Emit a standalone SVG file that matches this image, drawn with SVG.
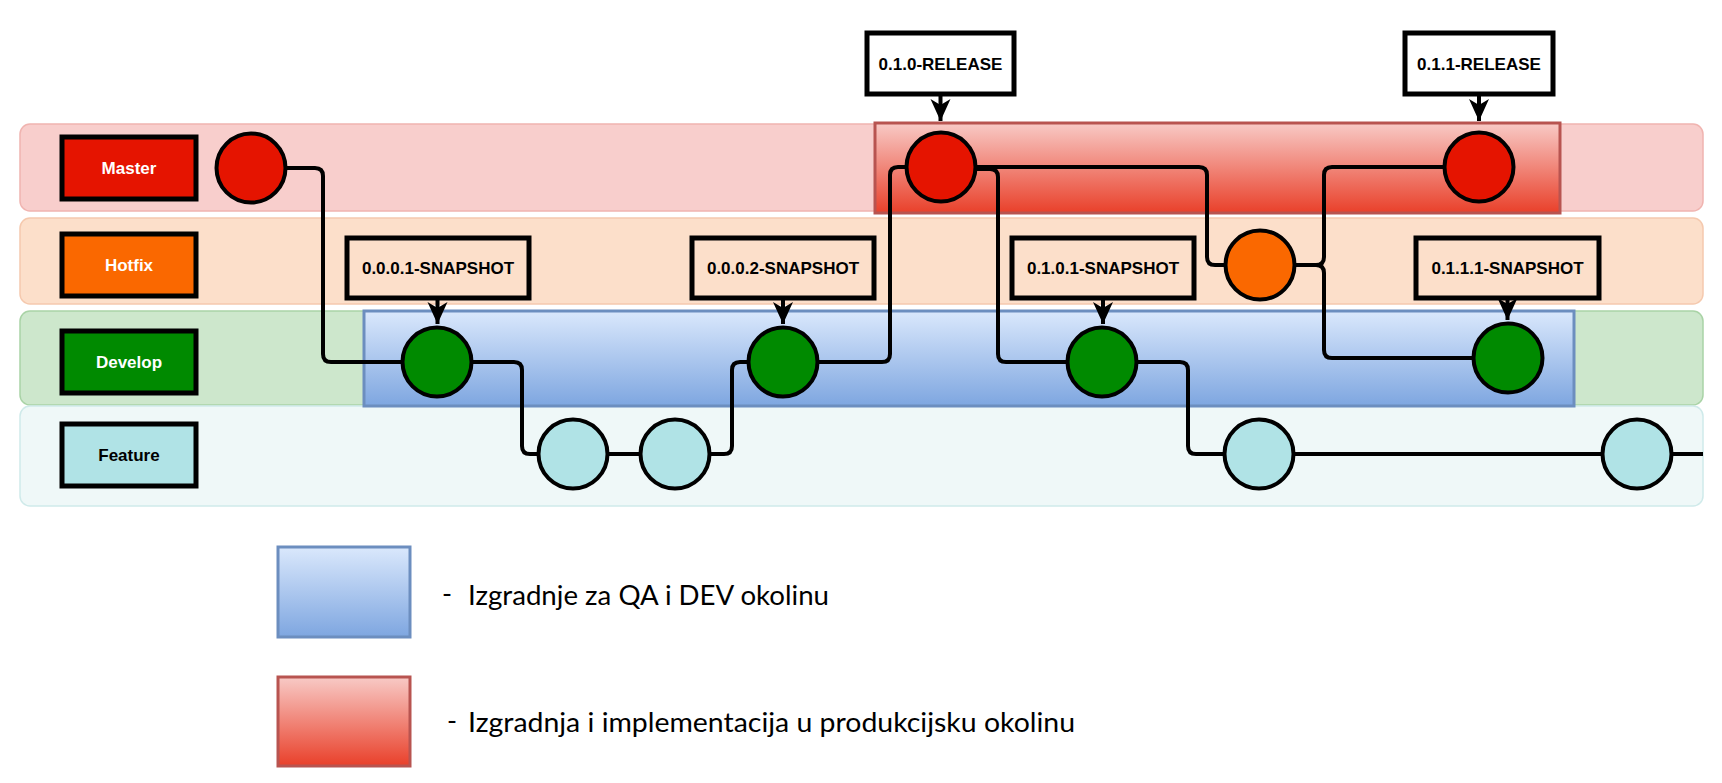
<svg xmlns="http://www.w3.org/2000/svg" width="1722" height="783" viewBox="0 0 1722 783">
<style>
.lbl{stroke:#000;stroke-width:5}
.lt{font-family:"Liberation Sans",Arial,sans-serif;font-weight:bold;font-size:17px;text-anchor:middle}
.tag{fill:none;stroke:#000;stroke-width:5}
.tagw{fill:#fff;stroke:#000;stroke-width:5}
.c{stroke:#000;stroke-width:4}
.ln{fill:none;stroke:#000;stroke-width:4;stroke-linejoin:round}
.ar{fill:none;stroke:#000;stroke-width:4}
.leg{font-family:Lato,"Open Sans",sans-serif;font-size:27px;fill:#000}
</style>
<defs>
<linearGradient id="gBlue" x1="0" y1="0" x2="0" y2="1"><stop offset="0" stop-color="#DAE8FC"/><stop offset="1" stop-color="#7EA6E0"/></linearGradient>
<linearGradient id="gRed" x1="0" y1="0" x2="0" y2="1"><stop offset="0" stop-color="#F8CAC6"/><stop offset="1" stop-color="#E9402A"/></linearGradient>
<marker id="arr" markerUnits="userSpaceOnUse" markerWidth="22" markerHeight="22" viewBox="0 0 22 22" refX="22" refY="11" orient="auto">
<path d="M0,1 L22,11 L0,21 L6,11 Z" fill="#000"/>
</marker>
</defs>

<g id="lanes">
<rect x="20" y="124" width="1683" height="87" rx="10" fill="#F8CECC" stroke="#F0B4B0" stroke-width="1.5"/>
<rect x="20" y="218" width="1683" height="86" rx="10" fill="#FCDFCA" stroke="#F5C9AE" stroke-width="1.5"/>
<rect x="20" y="311" width="1683" height="94" rx="10" fill="#CDE7CC" stroke="#A9D3A6" stroke-width="1.5"/>
<rect x="20" y="406" width="1683" height="100" rx="10" fill="#EFF8F8" stroke="#CFEAEA" stroke-width="1.5"/>
</g>

<g id="qa-build-area"><rect x="364" y="311" width="1210" height="95" fill="url(#gBlue)" stroke="#6C8EBF" stroke-width="3"/></g>
<g id="prod-build-area"><rect x="875" y="123" width="685" height="90" fill="url(#gRed)" stroke="#B85450" stroke-width="3"/></g>

<g id="label-master"><rect class="lbl" x="62" y="137" width="134" height="62" fill="#E51400"/><text class="lt" x="129" y="174" fill="#fff">Master</text></g>
<g id="label-hotfix"><rect class="lbl" x="62" y="234" width="134" height="62" fill="#FA6800"/><text class="lt" x="129" y="271" fill="#fff">Hotfix</text></g>
<g id="label-develop"><rect class="lbl" x="62" y="331" width="134" height="62" fill="#008A00"/><text class="lt" x="129" y="368" fill="#fff">Develop</text></g>
<g id="label-feature"><rect class="lbl" x="62" y="424" width="134" height="62" fill="#B0E3E6"/><text class="lt" x="129" y="461" fill="#000">Feature</text></g>

<g id="connectors">
<path class="ln" d="M287 168 H315 Q323 168 323 176 V354 Q323 362 331 362 H401"/>
<path class="ln" d="M473 362 H514 Q522 362 522 370 V446 Q522 454 530 454 H537"/>
<path class="ln" d="M609 454 H639"/>
<path class="ln" d="M711 454 H724 Q732 454 732 446 V370 Q732 362 740 362 H747"/>
<path class="ln" d="M819 362 H882 Q890 362 890 354 V175 Q890 167 898 167 H905"/>
<path class="ln" d="M977 167 H1199 Q1207 167 1207 175 V257 Q1207 265 1215 265 H1224"/>
<path class="ln" d="M977 169 H990 Q998 169 998 177 V354 Q998 362 1006 362 H1066"/>
<path class="ln" d="M1138 362 H1180 Q1188 362 1188 370 V446 Q1188 454 1196 454 H1223"/>
<path class="ln" d="M1295 454 H1601"/>
<path class="ln" d="M1673 454 H1703"/>
<path class="ln" d="M1296 265 H1316 Q1324 265 1324 257 V175 Q1324 167 1332 167 H1443"/>
<path class="ln" d="M1296 265 H1316 Q1324 265 1324 273 V350 Q1324 358 1332 358 H1472"/>
<path class="ar" d="M940.5 96 V121" marker-end="url(#arr)"/>
<path class="ar" d="M1479 96 V121" marker-end="url(#arr)"/>
<path class="ar" d="M437.5 300 V324" marker-end="url(#arr)"/>
<path class="ar" d="M783 300 V324" marker-end="url(#arr)"/>
<path class="ar" d="M1103 300 V324" marker-end="url(#arr)"/>
<path class="ar" d="M1507.5 300 V320" marker-end="url(#arr)"/>
</g>

<g id="master-commit-1"><circle class="c" cx="251" cy="168" r="34.5" fill="#E51400"/></g>
<g id="master-commit-2"><circle class="c" cx="941" cy="167" r="34.5" fill="#E51400"/></g>
<g id="master-commit-3"><circle class="c" cx="1479" cy="167" r="34.5" fill="#E51400"/></g>
<g id="hotfix-commit"><circle class="c" cx="1260" cy="265" r="34.5" fill="#FA6800"/></g>
<g id="develop-commit-1"><circle class="c" cx="437" cy="362" r="34.5" fill="#008A00"/></g>
<g id="develop-commit-2"><circle class="c" cx="783" cy="362" r="34.5" fill="#008A00"/></g>
<g id="develop-commit-3"><circle class="c" cx="1102" cy="362" r="34.5" fill="#008A00"/></g>
<g id="develop-commit-4"><circle class="c" cx="1508" cy="358" r="34.5" fill="#008A00"/></g>
<g id="feature-commit-1"><circle class="c" cx="573" cy="454" r="34.5" fill="#B0E3E6"/></g>
<g id="feature-commit-2"><circle class="c" cx="675" cy="454" r="34.5" fill="#B0E3E6"/></g>
<g id="feature-commit-3"><circle class="c" cx="1259" cy="454" r="34.5" fill="#B0E3E6"/></g>
<g id="feature-commit-4"><circle class="c" cx="1637" cy="454" r="34.5" fill="#B0E3E6"/></g>

<g id="tag-0.1.0-release"><rect class="tagw" x="867" y="33" width="147" height="61"/><text class="lt" x="940.5" y="70">0.1.0-RELEASE</text></g>
<g id="tag-0.1.1-release"><rect class="tagw" x="1405" y="33" width="148" height="61"/><text class="lt" x="1479" y="70">0.1.1-RELEASE</text></g>
<g id="tag-0.0.0.1-snapshot"><rect class="tag" x="347" y="238" width="182" height="60"/><text class="lt" x="438" y="274">0.0.0.1-SNAPSHOT</text></g>
<g id="tag-0.0.0.2-snapshot"><rect class="tag" x="692" y="238" width="182" height="60"/><text class="lt" x="783" y="274">0.0.0.2-SNAPSHOT</text></g>
<g id="tag-0.1.0.1-snapshot"><rect class="tag" x="1012" y="238" width="182" height="60"/><text class="lt" x="1103" y="274">0.1.0.1-SNAPSHOT</text></g>
<g id="tag-0.1.1.1-snapshot"><rect class="tag" x="1416" y="238" width="183" height="60"/><text class="lt" x="1507.5" y="274">0.1.1.1-SNAPSHOT</text></g>

<g id="legend-qa">
<rect x="278" y="547" width="132" height="90" fill="url(#gBlue)" stroke="#6C8EBF" stroke-width="3"/>
<text class="leg" x="442" y="603">-</text>
<text class="leg" x="468" y="605" textLength="361" lengthAdjust="spacingAndGlyphs">Izgradnje za QA i DEV okolinu</text>
</g>
<g id="legend-prod">
<rect x="278" y="677" width="132" height="89" fill="url(#gRed)" stroke="#B85450" stroke-width="3"/>
<text class="leg" x="447" y="730">-</text>
<text class="leg" x="468" y="732" textLength="607" lengthAdjust="spacingAndGlyphs">Izgradnja i implementacija u produkcijsku okolinu</text>
</g>
</svg>
